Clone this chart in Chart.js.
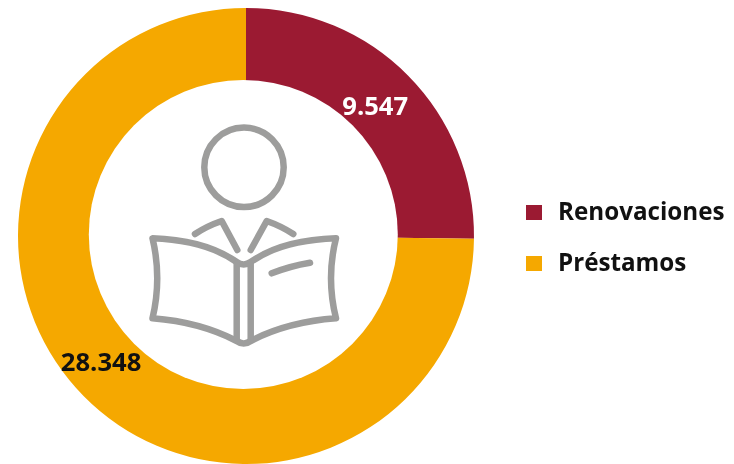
<!DOCTYPE html>
<html>
<head>
<meta charset="utf-8">
<script src="https://cdn.jsdelivr.net/npm/chart.js@4/dist/chart.umd.min.js"></script>
<style>
  html, body { margin: 0; padding: 0; background: #fff; }
  #wrap { position: relative; width: 734px; height: 464px; overflow: hidden; font-family: "Open Sans", sans-serif; }
  #chart { position: absolute; left: 0; top: 0; }
  #icon { position: absolute; left: 0; top: 0; }
  .legend-item { position: absolute; left: 526px; height: 30px; display: flex; align-items: center;
    font-size: 24.2px; font-weight: 700; color: #111; }
  .legend-box { width: 16px; height: 15px; margin-right: 16px; margin-top: 5px; }
</style>
</head>
<body>
<div id="wrap">
  <canvas id="chart" width="734" height="464"></canvas>
  <svg id="icon" width="734" height="464" fill="none" stroke="#9d9d9c" stroke-width="6.5" stroke-linecap="round" stroke-linejoin="round">
    <circle cx="244" cy="167.3" r="39.7"/>
    <path d="M195 234 Q207 226 221.7 221 L237.3 250"/>
    <path d="M293.3 234 Q281 226 266.7 221 L250.7 250"/>
    <path d="M152.5 238.3 Q205 240 236.7 262 Q243.7 267 250.7 262 Q282 240 336 238.3 Q326 278 336 318.3 Q287 322 250.7 341 Q243.7 346 236.7 341 Q200 322 152.5 318.3 Q162 278 152.5 238.3 Z"/>
    <path d="M236.7 264 V340 M250.7 264 V340"/>
    <path d="M271.7 273.3 Q290 266 310 262.7"/>
  </svg>
</div>
<script>
const categories = ['Renovaciones', 'Préstamos'];
const values = [9547, 28348];
const valueLabels = ['9.547', '28.348'];
const colors = ['#9b1a32', '#f5a800'];
const labelColors = ['#ffffff', '#111111'];
const labelOffsets = [[-5.4, 4.7], [-10.3, -5.7]];

// el hueco del original no esta centrado del todo, se pinta encima; luego las etiquetas
const sliceLabels = {
  id: 'sliceLabels',
  afterDatasetsDraw(chart) {
    const ctx = chart.ctx;
    const arcs = chart.getDatasetMeta(0).data;
    ctx.save();
    ctx.fillStyle = '#fff';
    ctx.beginPath();
    ctx.arc(arcs[0].x - 2.7, arcs[0].y - 1.5, 154.5, 0, Math.PI * 2);
    ctx.fill();
    ctx.font = '700 25.6px "Open Sans", sans-serif';
    ctx.textAlign = 'center';
    ctx.textBaseline = 'middle';
    arcs.forEach((arc, i) => {
      const pos = arc.tooltipPosition();
      ctx.fillStyle = labelColors[i];
      ctx.fillText(valueLabels[i], pos.x + labelOffsets[i][0], pos.y + labelOffsets[i][1]);
    });
    ctx.restore();
  }
};

new Chart(document.getElementById('chart'), {
  type: 'doughnut',
  data: {
    labels: categories,
    datasets: [{ data: values, backgroundColor: colors, borderWidth: 0 }]
  },
  options: {
    responsive: false,
    animation: false,
    cutout: '66%',
    layout: { padding: { left: 18, right: 260, top: 8, bottom: 0 } },
    plugins: { legend: { display: false }, tooltip: { enabled: false } }
  },
  plugins: [sliceLabels]
});

// leyenda
const wrap = document.getElementById('wrap');
const legendTops = [195, 246];
categories.forEach((name, i) => {
  const item = document.createElement('div');
  item.className = 'legend-item';
  item.style.top = legendTops[i] + 'px';
  item.innerHTML = '<span class="legend-box" style="background:' + colors[i] + '"></span><span>' + name + '</span>';
  wrap.appendChild(item);
});
</script>
</body>
</html>
